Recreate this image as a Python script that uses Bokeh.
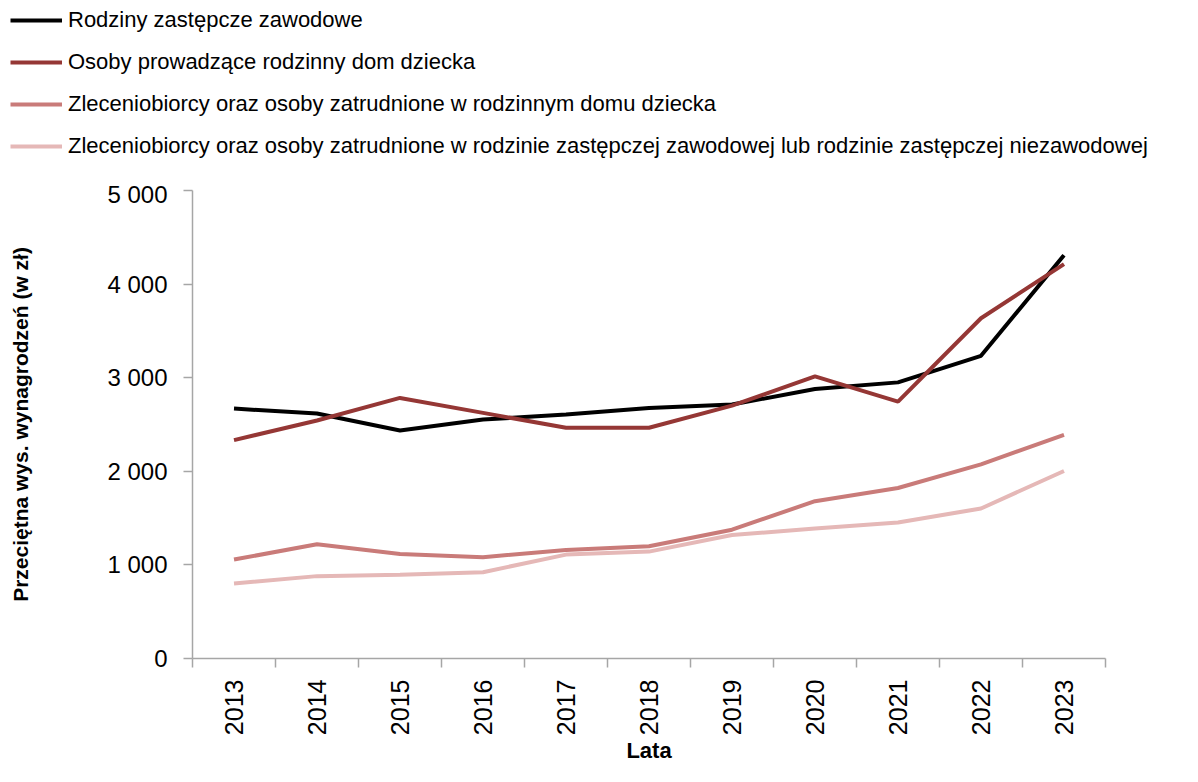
from bokeh.plotting import figure
from bokeh.models import FixedTicker, Legend, LegendItem, Range1d
from bokeh.layouts import column
from bokeh.embed import file_html
from bokeh.resources import INLINE
import math

years = [2013, 2014, 2015, 2016, 2017, 2018, 2019, 2020, 2021, 2022, 2023]
rodziny_zawodowe = [2670, 2617, 2436, 2553, 2606, 2677, 2713, 2880, 2950, 3234, 4309]
rodzinny_dom = [2333, 2543, 2784, 2624, 2465, 2465, 2702, 3014, 2745, 3635, 4213]
zlec_dom = [1057, 1220, 1117, 1082, 1160, 1199, 1376, 1681, 1822, 2074, 2390]
zlec_rodzina = [801, 880, 894, 922, 1110, 1142, 1319, 1390, 1454, 1603, 2003]

labels = [
    "Rodziny zastępcze zawodowe",
    "Osoby prowadzące rodzinny dom dziecka",
    "Zleceniobiorcy oraz osoby zatrudnione w rodzinnym domu dziecka",
    "Zleceniobiorcy oraz osoby zatrudnione w rodzinie zastępczej zawodowej lub rodzinie zastępczej niezawodowej",
]
colors = ["#000000", "#953735", "#C97B79", "#E5B8B7"]
y_ticks = [0, 1000, 2000, 3000, 4000, 5000]
y_tick_labels = ["0", "1 000", "2 000", "3 000", "4 000", "5 000"]
series = [rodziny_zawodowe, rodzinny_dom, zlec_dom, zlec_rodzina]

FONT = "Liberation Sans"
LEG_H = 180

# ---- legend strip (top) ----
pl = figure(width=1182, height=LEG_H, output_backend="svg", toolbar_location=None,
            x_range=Range1d(0, 1), y_range=Range1d(0, 1),
            x_axis_type=None, y_axis_type=None,
            min_border_left=0, min_border_right=0, min_border_top=0, min_border_bottom=0)
pl.frame_align = False
pl.outline_line_color = None
pl.grid.grid_line_color = None
# same series, drawn outside the visible range of this strip: only the legend shows
leg_renderers = [pl.line(years, ys, line_color=c, line_width=4) for ys, c in zip(series, colors)]
items = [LegendItem(label=l, renderers=[r]) for l, r in zip(labels, leg_renderers)]
legend = Legend(items=items, location=(10, 21), orientation="vertical",
                label_text_font=FONT, label_text_font_size="22px",
                label_text_color="#000000", glyph_width=52, glyph_height=24,
                label_standoff=6, spacing=16, padding=0, margin=0,
                border_line_color=None, background_fill_alpha=0)
pl.add_layout(legend, "center")

# ---- main chart ----
p = figure(width=1182, height=766 - LEG_H, output_backend="svg", toolbar_location=None,
           x_range=Range1d(2012.5, 2023.5), y_range=Range1d(0, 5000),
           min_border_left=192, min_border_right=77, min_border_top=190 - LEG_H, min_border_bottom=106)
p.frame_align = False
p.outline_line_color = None
p.grid.grid_line_color = None

for ys, c in zip(series, colors):
    p.line(years, ys, line_color=c, line_width=4)

p.xaxis.ticker = FixedTicker(ticks=years, minor_ticks=[y - 0.5 for y in years] + [years[-1] + 0.5])
p.xaxis.major_label_overrides = {y: str(y) for y in years}
p.xaxis.major_label_orientation = math.pi / 2
p.xaxis.major_tick_out = 0
p.xaxis.major_tick_in = 0
p.xaxis.minor_tick_out = 9
p.xaxis.minor_tick_in = 0
p.xaxis.minor_tick_line_color = "#A6A6A6"
p.xaxis.minor_tick_line_width = 1.5
p.xaxis.axis_line_color = "#A6A6A6"
p.xaxis.axis_line_width = 1.5
p.xaxis.major_label_text_font = FONT
p.xaxis.major_label_text_font_size = "25px"
p.xaxis.major_label_text_color = "#000000"
p.xaxis.major_label_standoff = 12
p.xaxis.axis_label = "Lata"
p.xaxis.axis_label_text_font = FONT
p.xaxis.axis_label_text_font_style = "bold"
p.xaxis.axis_label_text_font_size = "22px"
p.xaxis.axis_label_text_color = "#000000"
p.xaxis.axis_label_standoff = 0

p.yaxis.ticker = FixedTicker(ticks=y_ticks, minor_ticks=[])
p.yaxis.major_label_overrides = dict(zip(y_ticks, y_tick_labels))
p.yaxis.major_tick_out = 9
p.yaxis.major_tick_in = 0
p.yaxis.major_tick_line_color = "#A6A6A6"
p.yaxis.major_tick_line_width = 1.5
p.yaxis.axis_line_color = "#A6A6A6"
p.yaxis.axis_line_width = 1.5
p.yaxis.major_label_text_font = FONT
p.yaxis.major_label_text_font_size = "24px"
p.yaxis.major_label_text_color = "#000000"
p.yaxis.major_label_standoff = 16
p.yaxis.axis_label = "Przeciętna wys. wynagrodzeń (w zł)"
p.yaxis.axis_label_text_font = FONT
p.yaxis.axis_label_text_font_style = "bold"
p.yaxis.axis_label_text_font_size = "21px"
p.yaxis.axis_label_text_color = "#000000"
p.yaxis.axis_label_standoff = 72

layout = column(pl, p, spacing=0)
open("out.html", "w").write(file_html(layout, INLINE))
